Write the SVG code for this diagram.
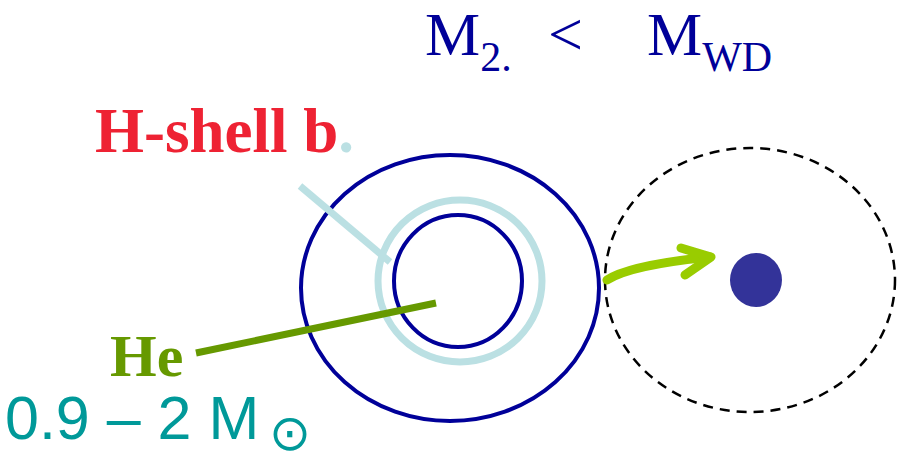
<svg xmlns="http://www.w3.org/2000/svg" width="912" height="462" viewBox="0 0 912 462">
<style>
.serif{font-family:"Liberation Serif","Times New Roman",serif}
.sans{font-family:"Liberation Sans",Arial,sans-serif}
.navy{fill:none;stroke:#000099;stroke-width:4}
</style>
<rect width="912" height="462" fill="#ffffff"/>
<g id="title">
<text class="serif" x="425" y="55" font-size="62" fill="#000099">M<tspan font-size="42" y="71">2.</tspan><tspan x="548" y="55" font-size="62">&lt;</tspan><tspan x="647" y="55" font-size="62">M</tspan><tspan font-size="42" y="71">WD</tspan></text>
</g>
<g id="star">
<ellipse class="navy" cx="450" cy="288" rx="149" ry="133"/>
<ellipse cx="460" cy="281" rx="82" ry="81" fill="none" stroke="#bbe0e3" stroke-width="7"/>
<ellipse class="navy" cx="458" cy="281" rx="64" ry="66"/>
</g>
<g id="companion">
<ellipse cx="750" cy="280" rx="145" ry="132" fill="none" stroke="#000000" stroke-width="2.5" stroke-dasharray="10,7"/>
<ellipse cx="756" cy="280" rx="26" ry="27" fill="#333399"/>
</g>
<g id="connectors">
<line x1="300" y1="186" x2="390" y2="262" stroke="#bbe0e3" stroke-width="7"/>
<line x1="196" y1="353" x2="436" y2="303" stroke="#669900" stroke-width="7"/>
<path d="M607,280 Q630,265 710,257" fill="none" stroke="#99cc00" stroke-width="9" stroke-linecap="round"/>
<polyline points="681,248 711,257 685,275" fill="none" stroke="#99cc00" stroke-width="9" stroke-linecap="round" stroke-linejoin="round"/>
</g>
<g id="labels">
<text class="serif" x="95" y="152" font-size="63" font-weight="bold" fill="#ee2233">H-shell b<tspan fill="#bbe0e3">.</tspan></text>
<text class="serif" x="110" y="376" font-size="60" font-weight="bold" fill="#669900">He</text>
<text class="sans" x="5" y="439" font-size="61" fill="#009999">0.9 – 2 M<tspan font-family="DejaVu Sans,sans-serif" font-size="50" x="269" dy="11">⊙</tspan></text>
</g>
</svg>
